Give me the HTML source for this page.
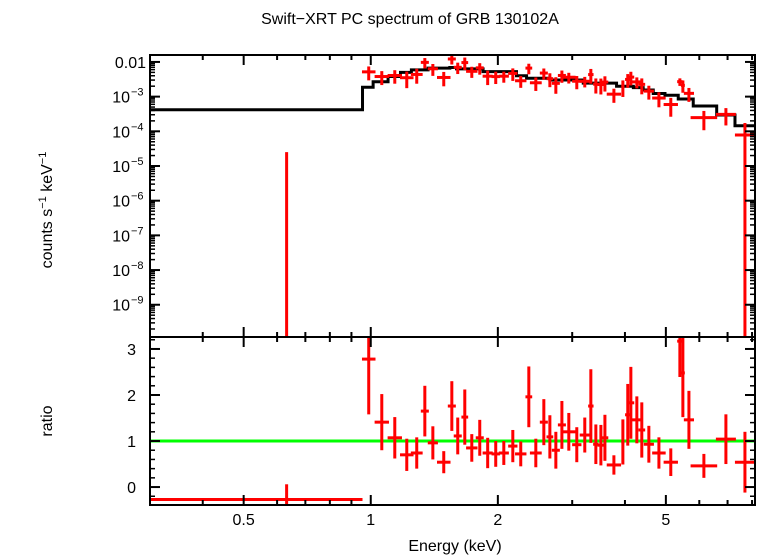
<!DOCTYPE html>
<html><head><meta charset="utf-8"><title>GRB 130102A spectrum</title>
<style>
html,body{margin:0;padding:0;background:#fff;}
svg{display:block;font-family:"Liberation Sans",sans-serif;}
</style></head>
<body>
<svg id="chart" width="758" height="556" viewBox="0 0 758 556" xmlns="http://www.w3.org/2000/svg">
<rect x="0" y="0" width="758" height="556" fill="#fff"/>
<text x="410" y="24" font-size="16" text-anchor="middle">Swift−XRT PC spectrum of GRB 130102A</text>
<text transform="translate(52,210) rotate(-90)" font-size="16" text-anchor="middle">counts s<tspan dy="-6" font-size="11">−1</tspan><tspan dy="6"> keV</tspan><tspan dy="-6" font-size="11">−1</tspan></text>
<text transform="translate(52,421) rotate(-90)" font-size="16" text-anchor="middle">ratio</text>
<text x="455" y="551" font-size="16" text-anchor="middle">Energy (keV)</text>
<g id="marks"></g>
</svg>
<script>
// ---- data ----
const energies = [0.632,0.989,1.062,1.140,1.217,1.285,1.343,1.403,1.489,1.556,1.607,1.670,1.735,1.812,1.892,1.977,2.066,2.170,2.266,2.368,2.460,2.570,2.656,2.744,2.836,2.945,3.076,3.213,3.321,3.413,3.508,3.586,3.766,3.955,4.062,4.131,4.268,4.385,4.557,4.814,5.136,5.397,5.486,5.670,6.152,6.937,7.696];
const binHalfDex = [0,0.016,0.017,0.017,0.016,0.014,0.0095,0.012,0.016,0.0095,0.0095,0.008,0.0135,0.0095,0.012,0.010,0.012,0.011,0.0135,0.008,0.014,0.0095,0.008,0.0095,0.0095,0.016,0.011,0.012,0.0064,0.0064,0.008,0.008,0.017,0.0036,0.0064,0.008,0.012,0.008,0.012,0.016,0.017,0.0064,0.0047,0.012,0.0315,0.0237,0.0237];
const binLo0 = 0.3, binHi0 = 0.956;
const ratios = [-0.27,2.78,1.41,1.07,0.70,0.74,1.65,0.96,0.54,1.76,1.11,1.52,0.85,1.07,0.74,0.72,0.74,0.89,0.72,1.96,0.74,1.41,1.09,0.80,1.35,1.20,0.92,1.13,1.76,0.93,0.91,1.07,0.48,0.98,1.57,1.83,1.46,1.24,0.93,0.74,0.54,3.17,2.48,1.46,0.46,1.04,0.54];
const ratioErr = [0.33,1.2,0.61,0.45,0.35,0.34,0.55,0.36,0.24,0.54,0.40,0.60,0.30,0.39,0.33,0.28,0.26,0.35,0.27,0.66,0.31,0.50,0.47,0.40,0.52,0.41,0.38,0.38,0.80,0.43,0.44,0.50,0.21,0.49,0.67,0.78,0.51,0.60,0.40,0.34,0.30,0.78,0.96,0.63,0.26,0.54,0.66];
const modelEdges = [0.3,0.956,1.013,1.099,1.176,1.248,1.367,1.539,1.596,1.845,2.214,2.339,2.656,3.186,3.821,4.188,4.418,4.667,4.976,5.349,5.805,6.597,7.289,8.13];
const modelLog = [-3.38,-2.73,-2.57,-2.42,-2.30,-2.23,-2.18,-2.16,-2.20,-2.28,-2.40,-2.47,-2.52,-2.61,-2.70,-2.74,-2.81,-2.91,-2.96,-3.07,-3.27,-3.53,-3.84];
const xTickMajor = [0.5,1,2,5];
const xTickMajorLabels = ["0.5","1","2","5"];
const xTickMinor = [0.3,0.4,0.6,0.7,0.8,0.9,3,4,6,7,8];
const yTopDecades = [-2,-3,-4,-5,-6,-7,-8,-9];
const yTopLabels = ["0.01","10","10","10","10","10","10","10"];
const yTopExp = ["","−3","−4","−5","−6","−7","−8","−9"];
const yRatioMajor = [0,1,2,3];

// ---- geometry ----
const L=150,R=755,T1=55,B1=337,T2=337,B2=505;
const xMin=0.3,xMax=8.13, yTopMax=-1.8, yTopMin=-9.93, rMin=-0.39, rMax=3.26;
const X = e => L + (Math.log10(e)-Math.log10(xMin))/(Math.log10(xMax)-Math.log10(xMin))*(R-L);
const YT = lg => T1 + (yTopMax-lg)/(yTopMax-yTopMin)*(B1-T1);
const YR = r => T2 + (rMax-r)/(rMax-rMin)*(B2-T2);
const NS="http://www.w3.org/2000/svg";
const g=document.getElementById('marks');
function mk(tag,attrs){const el=document.createElementNS(NS,tag);for(const k in attrs)el.setAttribute(k,attrs[k]);g.appendChild(el);return el;}
function modelAt(e){for(let i=0;i<modelLog.length;i++){if(e>=modelEdges[i]&&e<modelEdges[i+1])return modelLog[i];}return modelLog[modelLog.length-1];}

// clip paths
const defs=document.createElementNS(NS,'defs');
defs.innerHTML='<clipPath id="c1"><rect x="'+L+'" y="'+T1+'" width="'+(R-L)+'" height="'+(B1-T1)+'"/></clipPath><clipPath id="c2"><rect x="'+L+'" y="'+T2+'" width="'+(R-L)+'" height="'+(B2-T2)+'"/></clipPath>';
document.getElementById('chart').insertBefore(defs,g);
const g1=document.createElementNS(NS,'g');g1.setAttribute('clip-path','url(#c1)');g.appendChild(g1);


const g2=document.createElementNS(NS,'g');g2.setAttribute('clip-path','url(#c2)');g.appendChild(g2);


function ln(parent,x1,y1,x2,y2,c,w){const el=document.createElementNS(NS,'line');el.setAttribute('x1',x1);el.setAttribute('y1',y1);el.setAttribute('x2',x2);el.setAttribute('y2',y2);el.setAttribute('stroke',c);el.setAttribute('stroke-width',w);parent.appendChild(el);return el;}

// model step line
let d='';
for(let i=0;i<modelLog.length;i++){const y=YT(modelLog[i]);const x1=X(modelEdges[i]),x2=X(modelEdges[i+1]);d+=(i===0?'M':'L')+x1+' '+y+' L'+x2+' '+y+' ';}
const mp=document.createElementNS(NS,'path');mp.setAttribute('d',d);mp.setAttribute('fill','none');mp.setAttribute('stroke','#000');mp.setAttribute('stroke-width','3');g1.appendChild(mp);



// unity line
const ul=ln(g2,L,YR(1),R,YR(1),'#00ff00',3);



// data points
for(let i=0;i<energies.length;i++){
  const e=energies[i];
  let xl,xr;
  if(i===0){xl=X(binLo0);xr=X(binHi0);}else{xl=X(e/Math.pow(10,binHalfDex[i]));xr=X(e*Math.pow(10,binHalfDex[i]));}
  const xc=X(e);
  const m=Math.pow(10,modelAt(e));
  const cnt=ratios[i]*m, ce=ratioErr[i]*m;
  const gp=document.createElementNS(NS,'g');g1.appendChild(gp);
  
  
  if(cnt>0){
    const yc=YT(Math.log10(cnt));
    ln(gp,xl,yc,xr,yc,'#f00',3);
    const lo=cnt-ce;
    ln(gp,xc,YT(Math.log10(cnt+ce)),xc,lo>0?YT(Math.log10(lo)):B1+5,'#f00',3);
  } else {
    const hi=cnt+ce;
    if(hi>0) ln(gp,xc,YT(Math.log10(hi)),xc,B1+5,'#f00',3);
  }
  const gr=document.createElementNS(NS,'g');g2.appendChild(gr);
  
  
  const yr=YR(ratios[i]);
  ln(gr,xl,yr,xr,yr,'#f00',3);
  ln(gr,xc,YR(ratios[i]+ratioErr[i]),xc,YR(ratios[i]-ratioErr[i]),'#f00',3);
}

// frames
const f1=mk('rect',{x:L,y:T1,width:R-L,height:B1-T1,fill:'none',stroke:'#000','stroke-width':2});


const f2=mk('rect',{x:L,y:T2,width:R-L,height:B2-T2,fill:'none',stroke:'#000','stroke-width':2});



// x ticks
const ax=document.createElementNS(NS,'g');g.appendChild(ax);


xTickMajor.forEach((v,i)=>{const x=X(v);
  [[T1,10],[B1,-10],[T2,10],[B2,-10]].forEach(([y,l])=>ln(ax,x,y,x,y+l,'#000',2));
  const t=document.createElementNS(NS,'text');t.setAttribute('x',x);t.setAttribute('y',B2+20);t.setAttribute('font-size','16');t.setAttribute('text-anchor','middle');t.textContent=xTickMajorLabels[i];ax.appendChild(t);
  
  
});
xTickMinor.forEach(v=>{const x=X(v);[[T1,5],[B1,-5],[T2,5],[B2,-5]].forEach(([y,l])=>ln(ax,x,y,x,y+l,'#000',2));});

// top y ticks
const ay=document.createElementNS(NS,'g');g.appendChild(ay);


yTopDecades.forEach((dd,i)=>{const y=YT(dd);ln(ay,L,y,L+10,y,'#000',2);ln(ay,R,y,R-10,y,'#000',2);
  const t=document.createElementNS(NS,'text');t.setAttribute('x',yTopExp[i]?L-20:L-4);t.setAttribute('y',y+6);t.setAttribute('font-size','16');t.setAttribute('text-anchor','end');t.textContent=yTopLabels[i];ay.appendChild(t);
  
  
  if(yTopExp[i]){const s=document.createElementNS(NS,'text');s.setAttribute('x',L-19);s.setAttribute('y',y-1);s.setAttribute('font-size','11');s.textContent=yTopExp[i];ay.appendChild(s);
  
  }
});
for(let dd=-10;dd<-1;dd++){for(let k=2;k<10;k++){const lg=dd+Math.log10(k);if(lg>yTopMax||lg<yTopMin)continue;const y=YT(lg);ln(ay,L,y,L+5,y,'#000',1.5);ln(ay,R,y,R-5,y,'#000',1.5);}}

// ratio y ticks
const ar=document.createElementNS(NS,'g');g.appendChild(ar);


yRatioMajor.forEach(v=>{const y=YR(v);ln(ar,L,y,L+10,y,'#000',2);ln(ar,R,y,R-10,y,'#000',2);
  const t=document.createElementNS(NS,'text');t.setAttribute('x',L-14);t.setAttribute('y',y+6);t.setAttribute('font-size','16');t.setAttribute('text-anchor','end');t.textContent=String(v);ar.appendChild(t);
  
  
});
for(let v=-0.2;v<3.25;v+=0.2){if(Math.abs(v-Math.round(v))<0.01)continue;const y=YR(v);ln(ar,L,y,L+5,y,'#000',1.5);ln(ar,R,y,R-5,y,'#000',1.5);}
</script>
</body></html>
